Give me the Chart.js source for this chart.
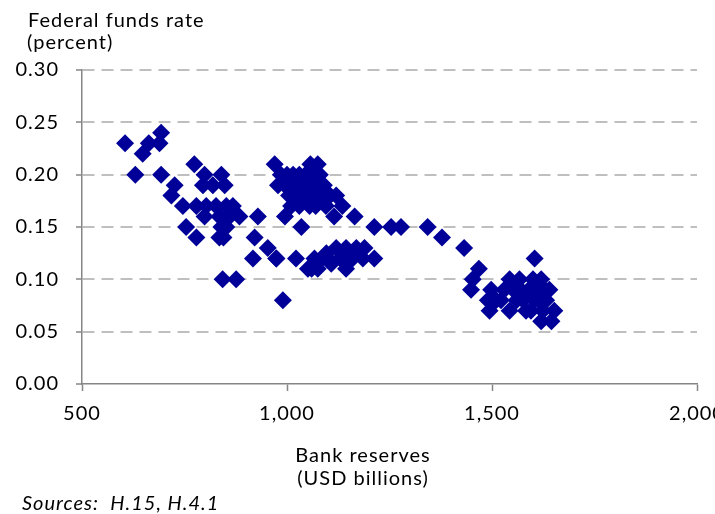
<!DOCTYPE html>
<html>
<head>
<meta charset="utf-8">
<script src="https://cdn.jsdelivr.net/npm/chart.js@4.4.1/dist/chart.umd.min.js"></script>
<style>
  html, body { margin: 0; padding: 0; background: #fff; }
</style>
</head>
<body>
<canvas id="reservesChart" width="715" height="514"></canvas>
<script>
// weekly observations: bank reserves (USD bn) vs effective fed funds rate (%)
var reserves = [
  605, 630, 648, 663, 689, 693, 693, 718, 726, 746, 754, 774, 779, 779, 795,
  799, 799, 803, 819, 827, 835, 835, 840, 840, 843, 845, 848, 852, 852, 860,
  868, 876, 884, 917, 921, 929, 953, 970, 974, 990,
  978, 985, 995, 1000, 1005, 1010, 1015, 1020, 1025, 1030, 1035, 1040, 1045,
  1050, 1055, 1057, 1060, 1065, 1070, 1070, 1075, 1080, 1085, 1090, 1095,
  1100, 1105, 1010, 1030, 1120, 1135, 1115, 1165, 995, 1035,
  1213, 1254, 1278, 1343, 1378, 1432,
  974, 1022, 1051, 1060, 1067, 1075, 1085, 1096, 1100, 1108, 1120, 1130,
  1144, 1144, 1160, 1169, 1185, 1189, 1213,
  1449, 1453, 1468, 1490, 1494, 1498, 1510, 1522, 1530, 1543, 1543, 1552,
  1560, 1567, 1570, 1576, 1583, 1590, 1595, 1600, 1604, 1604, 1612, 1615,
  1620, 1620, 1624, 1628, 1632, 1640, 1645, 1652
];
var fundsRate = [
  0.23, 0.20, 0.22, 0.23, 0.23, 0.24, 0.20, 0.18, 0.19, 0.17, 0.15, 0.21, 0.17, 0.14, 0.19,
  0.20, 0.16, 0.17, 0.19, 0.17, 0.16, 0.14, 0.20, 0.15, 0.10, 0.14, 0.19, 0.17, 0.15, 0.16,
  0.17, 0.10, 0.16, 0.12, 0.14, 0.16, 0.13, 0.21, 0.12, 0.08,
  0.19, 0.20, 0.19, 0.20, 0.18, 0.19, 0.20, 0.19, 0.18, 0.20, 0.19, 0.18, 0.20,
  0.19, 0.17, 0.21, 0.18, 0.20, 0.19, 0.17, 0.21, 0.20, 0.18, 0.19, 0.17,
  0.18, 0.18, 0.17, 0.17, 0.18, 0.17, 0.16, 0.16, 0.16, 0.15,
  0.15, 0.15, 0.15, 0.15, 0.14, 0.13,
  0.12, 0.12, 0.11, 0.11, 0.12, 0.11, 0.12, 0.125, 0.12, 0.115, 0.13, 0.12,
  0.13, 0.11, 0.12, 0.13, 0.12, 0.13, 0.12,
  0.09, 0.10, 0.11, 0.08, 0.07, 0.09, 0.08, 0.08, 0.09, 0.10, 0.07, 0.09,
  0.08, 0.10, 0.09, 0.08, 0.07, 0.09, 0.07, 0.10, 0.08, 0.12, 0.09, 0.08,
  0.06, 0.10, 0.07, 0.09, 0.08, 0.09, 0.06, 0.07
];
var xTicks = [500, 1000, 1500, 2000];
var yTicks = [0, 0.05, 0.10, 0.15, 0.20, 0.25, 0.30];

var yTitle = ['Federal funds rate', '(percent)'];
var xTitle = ['Bank reserves', '(USD billions)'];
var sourceNote = 'Sources:  H.15, H.4.1';

var FONT = 'Lato, "Liberation Sans", sans-serif';
var AXIS = '#868686';

var points = reserves.map(function(r, i) { return { x: r, y: fundsRate[i] }; });

// slightly wider lettering for every label on the canvas
var spacingPlugin = {
    id: 'wideText',
    beforeDraw: function(chart) { chart.ctx.letterSpacing = '1px'; }
};

// titles and source line are plain canvas text
var textPlugin = {
    id: 'chartText',
    afterDraw: function(chart) {
        var ctx = chart.ctx;
        ctx.save();
        ctx.fillStyle = '#000';
        ctx.textBaseline = 'alphabetic';
        ctx.font = '20px ' + FONT;
        ctx.textAlign = 'left';
        ctx.fillText(yTitle[0], 28, 27);
        ctx.fillText(yTitle[1], 27, 49);
        ctx.textAlign = 'center';
        ctx.fillText(xTitle[0], 363, 462);
        ctx.fillText(xTitle[1], 363, 485);
        ctx.textAlign = 'left';
        ctx.font = 'italic 20px ' + FONT;
        ctx.fillText(sourceNote, 22, 510);
        ctx.restore();
    }
};

var ctx = document.getElementById('reservesChart').getContext('2d');
var chart = new Chart(ctx, {
    type: 'scatter',
    data: {
        datasets: [{
            label: 'Fed funds vs reserves',
            data: points,
            pointStyle: 'rectRot',
            pointRadius: 9,
            pointHoverRadius: 9,
            borderWidth: 0,
            backgroundColor: '#000099',
            borderColor: '#000099'
        }]
    },
    options: {
        responsive: false,
        animation: false,
        layout: { padding: { top: 70, left: 0, right: 18, bottom: 90 } },
        plugins: {
            legend: { display: false },
            tooltip: { enabled: false }
        },
        scales: {
            x: {
                type: 'linear',
                min: xTicks[0],
                max: xTicks[xTicks.length - 1],
                afterBuildTicks: function(s) { s.ticks = xTicks.map(function(v) { return { value: v }; }); },
                afterFit: function(s) { s.height = 40; s.paddingLeft = 0; s.paddingRight = 0; },
                ticks: {
                    color: '#000',
                    font: { family: FONT, size: 20 },
                    padding: 11,
                    maxRotation: 0,
                    callback: function(v) { return v.toLocaleString('en-US'); }
                },
                grid: { drawOnChartArea: false, drawTicks: true, tickLength: 7, tickColor: AXIS, tickWidth: 1.5 },
                border: { color: AXIS, width: 1.5 }
            },
            y: {
                min: 0,
                max: 0.3,
                afterBuildTicks: function(s) { s.ticks = yTicks.map(function(v) { return { value: v }; }); },
                afterFit: function(s) { s.width = 82; },
                ticks: {
                    color: '#000',
                    font: { family: FONT, size: 20 },
                    padding: 17,
                    callback: function(v) { return v.toFixed(2); }
                },
                grid: {
                    color: function(c) { return c.tick && c.tick.value === 0 ? 'rgba(0,0,0,0)' : '#bfbfbf'; },
                    lineWidth: 2,
                    tickLength: 6,
                    tickColor: AXIS,
                    tickWidth: 1.5,
                    tickBorderDash: []
                },
                border: { color: AXIS, width: 1.5, dash: [12, 7] }
            }
        }
    },
    plugins: [spacingPlugin, textPlugin]
});
</script>
</body>
</html>
